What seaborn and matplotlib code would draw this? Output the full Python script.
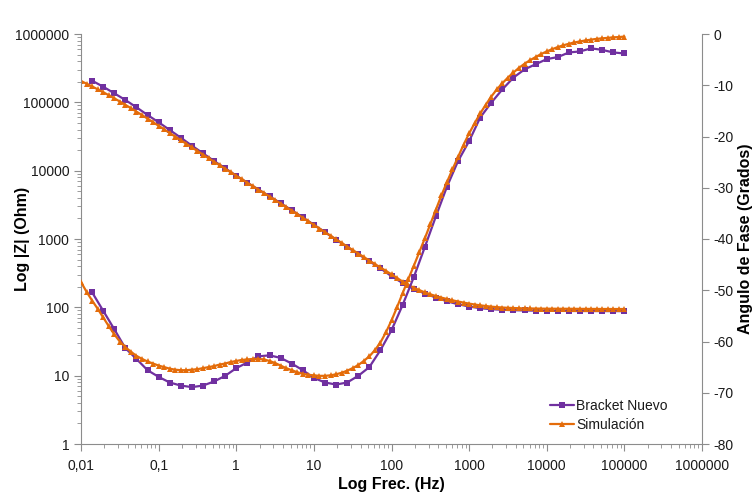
import matplotlib
matplotlib.use("Agg")
import matplotlib.pyplot as plt
from matplotlib.lines import Line2D
from matplotlib.ticker import FixedLocator, FuncFormatter, LogLocator, NullFormatter
import seaborn as sns

# ---- measured sample: "Bracket Nuevo" ----
bracket_freq = [
    0.01389, 0.01931, 0.02683, 0.03728, 0.05179, 0.07197, 0.1,
    0.1389, 0.1931, 0.2683, 0.3728, 0.5179, 0.7197, 1,
    1.389, 1.931, 2.683, 3.728, 5.179, 7.197, 10,
    13.89, 19.31, 26.83, 37.28, 51.79, 71.97, 100,
    138.9, 193.1, 268.3, 372.8, 517.9, 719.7, 1000,
    1389, 1931, 2683, 3728, 5179, 7197, 10000,
    13890, 19310, 26830, 37280, 51790, 71970, 100000,
]
bracket_z = [
    207300, 169300, 135600, 108200, 84600, 65260, 51030,
    39380, 30370, 23190, 17960, 13850, 10830, 8436,
    6664, 5301, 4215, 3341, 2638, 2070, 1614,
    1257, 980, 766, 599, 473, 372.5, 285.4,
    227, 186.6, 159.3, 139.2, 122.5, 111.1, 102.8,
    97.1, 94.0, 92.0, 90.8, 90.0, 89.4, 89.0,
    88.7, 88.5, 88.3, 88.2, 88.1, 88.0, 88.0,
]
bracket_phase = [
    -50.4, -54.0, -57.6, -61.3, -63.4, -65.6, -66.9,
    -68.0, -68.6, -68.9, -68.6, -67.8, -66.7, -65.2,
    -64.1, -62.9, -62.7, -63.2, -64.3, -65.6, -67.1,
    -68.0, -68.4, -68.0, -66.7, -65.0, -61.7, -57.8,
    -52.9, -47.5, -41.6, -35.6, -29.8, -24.8, -20.9,
    -16.3, -13.4, -10.8, -8.5, -6.9, -5.9, -4.9,
    -4.5, -3.6, -3.4, -2.8, -3.1, -3.6, -3.8,
]

# ---- fitted equivalent circuit: "Simulación" ----
sim_freq = [
    0.01, 0.01179, 0.01389, 0.01638, 0.01931, 0.02276, 0.02683, 0.03162, 0.03728, 0.04394, 0.05179, 0.06105, 0.07197, 0.08483,
    0.1, 0.1179, 0.1389, 0.1638, 0.1931, 0.2276, 0.2683, 0.3162, 0.3728, 0.4394, 0.5179, 0.6105, 0.7197, 0.8483,
    1, 1.179, 1.389, 1.638, 1.931, 2.276, 2.683, 3.162, 3.728, 4.394, 5.179, 6.105, 7.197, 8.483,
    10, 11.79, 13.89, 16.38, 19.31, 22.76, 26.83, 31.62, 37.28, 43.94, 51.79, 61.05, 71.97, 84.83,
    100, 117.9, 138.9, 163.8, 193.1, 227.6, 268.3, 316.2, 372.8, 439.4, 517.9, 610.5, 719.7, 848.3,
    1000, 1179, 1389, 1638, 1931, 2276, 2683, 3162, 3728, 4394, 5179, 6105, 7197, 8483,
    10000, 11790, 13890, 16380, 19310, 22760, 26830, 31620, 37280, 43940, 51790, 61050, 71970, 84830,
    100000,
]
sim_z = [
    205200, 187300, 171100, 155100, 140700, 127200, 114600, 102800, 92030, 82090, 73180, 65050, 57810, 51210,
    45350, 40160, 35570, 31510, 27910, 24720, 21900, 19400, 17180, 15220, 13530, 12020, 10680, 9495,
    8437, 7499, 6664, 5923, 5283, 4710, 4185, 3721, 3307, 2939, 2612, 2313, 2049, 1815,
    1608, 1424, 1261, 1117, 989.5, 876.6, 776.5, 690.0, 613.2, 545.0, 484.4, 430.5, 383.8, 341.2,
    304.2, 268.6, 238.7, 214.3, 194.3, 178.6, 165.9, 155.1, 146.4, 138.8, 132.3, 126.7, 121.7, 117.3,
    113.4, 110.0, 107.0, 104.5, 102.4, 100.7, 99.4, 98.4, 97.7, 97.1, 96.4, 96.2, 96.0, 95.7,
    95.5, 95.5, 95.3, 95.3, 95.3, 95.1, 95.0, 94.9, 94.8, 94.7, 94.6, 94.6, 94.5, 94.5,
    94.5,
]
sim_phase = [
    -48.4, -50.3, -52.0, -53.6, -55.3, -57.0, -58.6, -60.0, -61.1, -62.0, -62.8, -63.4, -63.9, -64.3,
    -64.7, -65.0, -65.3, -65.5, -65.6, -65.6, -65.5, -65.4, -65.2, -65.0, -64.8, -64.5, -64.3, -64.0,
    -63.8, -63.6, -63.5, -63.4, -63.4, -63.5, -63.8, -64.2, -64.7, -65.2, -65.6, -66.0, -66.3, -66.5,
    -66.6, -66.7, -66.7, -66.6, -66.4, -66.1, -65.7, -65.2, -64.6, -63.8, -62.9, -61.7, -60.2, -58.2,
    -55.9, -53.3, -50.6, -47.9, -45.3, -42.6, -39.9, -37.1, -34.3, -31.5, -28.9, -26.4, -24.0, -21.6,
    -19.4, -17.4, -15.5, -13.8, -12.2, -10.8, -9.6, -8.5, -7.5, -6.6, -5.8, -5.1, -4.5, -3.9,
    -3.4, -2.95, -2.55, -2.2, -1.9, -1.65, -1.45, -1.25, -1.1, -0.95, -0.85, -0.75, -0.65, -0.6,
    -0.5,
]

series_labels = ["Bracket Nuevo", "Simulación"]
x_ticks = [0.01, 0.1, 1, 10, 100, 1000, 10000, 100000, 1000000]
z_ticks = [1, 10, 100, 1000, 10000, 100000, 1000000]
phase_ticks = [0, -10, -20, -30, -40, -50, -60, -70, -80]

PURPLE = "#7030A0"
ORANGE = "#E46C0A"
SPINE = "#8C8C8C"
TEXT = "#1A1A1A"

sns.set_theme(style="ticks")
plt.rcParams["font.family"] = ["Liberation Sans", "DejaVu Sans"]

fig = plt.figure(figsize=(7.54, 4.93), dpi=100)
ax = fig.add_axes([81 / 754, 1 - 444 / 493, (702 - 81) / 754, (444 - 34) / 493])
ax2 = ax.twinx()

line_kw = dict(linewidth=1.6, markeredgewidth=0, legend=False, sort=False)

# impedance modulus on the left (log) axis
sns.lineplot(x=bracket_freq, y=bracket_z, ax=ax, color=PURPLE, marker="s", markersize=4.4, **line_kw)
sns.lineplot(x=sim_freq, y=sim_z, ax=ax, color=ORANGE, marker="^", markersize=4.0, **line_kw)
# phase angle on the right axis
sns.lineplot(x=bracket_freq, y=bracket_phase, ax=ax2, color=PURPLE, marker="s", markersize=4.4, **line_kw)
sns.lineplot(x=sim_freq, y=sim_phase, ax=ax2, color=ORANGE, marker="^", markersize=4.0, **line_kw)

ax.set_xscale("log")
ax.set_yscale("log")
ax.set_xlim(0.01, 1e6)
ax.set_ylim(1, 1e6)
ax2.set_ylim(-80, 0)


def comma_number(v, _pos=None):
    if v < 1:
        return f"{v:g}".replace(".", ",")
    return f"{int(round(v))}"


ax.xaxis.set_major_locator(FixedLocator(x_ticks))
ax.xaxis.set_major_formatter(FuncFormatter(comma_number))
ax.xaxis.set_minor_locator(LogLocator(base=10, subs=range(2, 10), numticks=100))
ax.xaxis.set_minor_formatter(NullFormatter())
ax.yaxis.set_major_locator(FixedLocator(z_ticks))
ax.yaxis.set_major_formatter(FuncFormatter(comma_number))
ax.yaxis.set_minor_locator(LogLocator(base=10, subs=range(2, 10), numticks=100))
ax.yaxis.set_minor_formatter(NullFormatter())
ax2.yaxis.set_major_locator(FixedLocator(phase_ticks))
ax2.yaxis.set_major_formatter(FuncFormatter(lambda v, p: f"{int(v)}"))

for a in (ax, ax2):
    a.tick_params(which="major", direction="out", length=5, width=0.8, color=SPINE,
                  labelsize=10, labelcolor=TEXT)
    a.tick_params(which="minor", direction="out", length=3, width=0.6, color=SPINE)
    a.spines["top"].set_visible(False)
    for s in a.spines.values():
        s.set_color(SPINE)
        s.set_linewidth(0.8)
ax.spines["right"].set_visible(False)
ax2.spines["left"].set_visible(False)
ax2.spines["bottom"].set_visible(False)
ax2.tick_params(axis="y", which="minor", length=0)
ax.tick_params(axis="x", pad=6)

ax.set_xlabel("Log Frec. (Hz)", fontsize=11.5, fontweight="bold", color="black", labelpad=3)
ax.set_ylabel("Log |Z| (Ohm)", fontsize=11.5, fontweight="bold", color="black")
ax2.set_ylabel("Angulo de Fase (Grados)", fontsize=11.5, fontweight="bold", color="black")
# axis titles sit close to the figure edges, overlapping the tick-label column
ax.yaxis.set_label_coords((30 - 81) / 621, 0.5)
ax2.yaxis.set_label_coords((738 - 81) / 621, 0.5)

handles = [
    Line2D([], [], color=PURPLE, marker="s", markersize=4.4, markeredgewidth=0, linewidth=1.6),
    Line2D([], [], color=ORANGE, marker="^", markersize=4.0, markeredgewidth=0, linewidth=1.6),
]
ax2.legend(handles, series_labels, loc="lower right", bbox_to_anchor=(0.96, 0.005),
           frameon=False, fontsize=10, handlelength=1.7, handletextpad=0.15,
           labelspacing=0.4, borderpad=0.2, labelcolor=TEXT)

fig.savefig("out.png", dpi=100, facecolor="white")
